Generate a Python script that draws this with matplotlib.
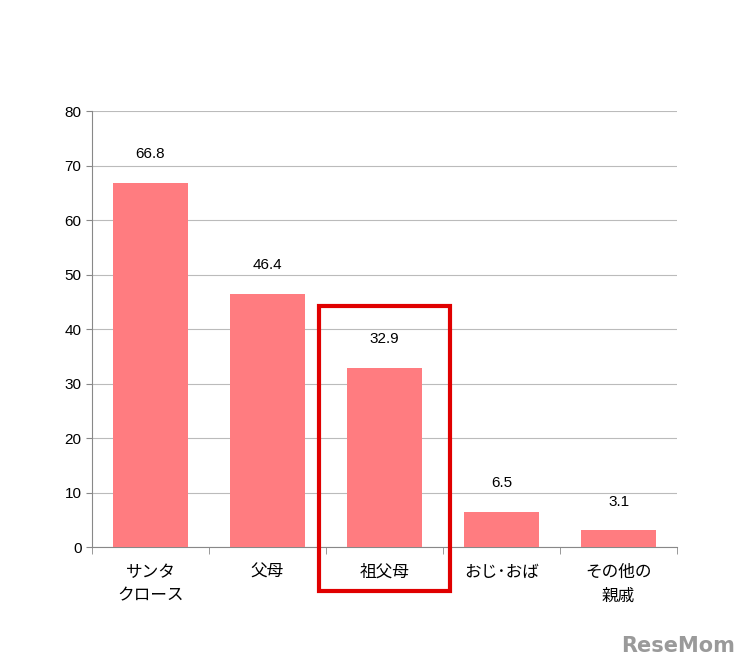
import matplotlib.pyplot as plt
from matplotlib.patches import Rectangle

plt.rcParams['font.family'] = ['Noto Sans CJK JP', 'DejaVu Sans']

categories = ["サンタ\nクロース", "父母", "祖父母", "おじ･おば", "その他の\n親戚"]
values = [66.8, 46.4, 32.9, 6.5, 3.1]

fig = plt.figure(figsize=(7.54, 6.69), dpi=100)
ax = fig.add_axes([0.122, 0.182, 0.776, 0.652])

x = list(range(len(values)))
ax.bar(x, values, width=0.64, color="#FF7C80", zorder=3)
for xi, v in zip(x, values):
    ax.text(xi, v + 4, f"{v}", ha="center", va="bottom", fontsize=11,
            family="Liberation Sans")

ax.set_xlim(-0.5, len(values) - 0.5)
ax.set_ylim(0, 80)
ax.set_yticks(range(0, 81, 10))
ax.yaxis.grid(True, color="#BBBBBB", linewidth=0.8, zorder=0)
ax.set_xticks(x)
ax.set_xticklabels(categories, fontsize=12, linespacing=1.5, va="top")
ax.tick_params(axis="x", length=0, pad=12)
ax.set_xticks([i + 0.5 for i in range(-1, len(values))], minor=True)
ax.tick_params(axis="x", which="minor", length=5, color="#888888")
ax.tick_params(axis="y", labelsize=11, length=4, color="#888888")
for lbl in ax.get_yticklabels():
    lbl.set_family("Liberation Sans")
for s in ["top", "right"]:
    ax.spines[s].set_visible(False)
ax.spines["left"].set_color("#888888")
ax.spines["bottom"].set_color("#888888")

# highlight box around the third category
ax.add_patch(Rectangle((2 - 0.56, -8.1), 1.12, 52.3, fill=False,
                       edgecolor="#E00000", linewidth=3, clip_on=False, zorder=5))

fig.text(0.975, 0.02, "ReseMom", ha="right", va="bottom", fontsize=15,
         color="#9A9A9A", fontweight="bold", family="DejaVu Sans")

fig.savefig("out.png", dpi=100)
